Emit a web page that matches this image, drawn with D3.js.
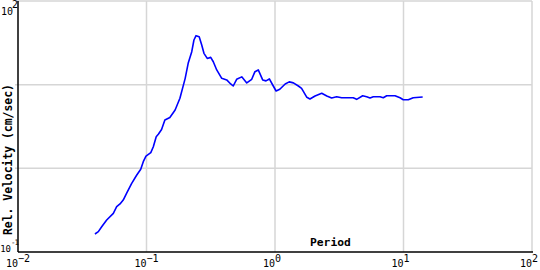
<!DOCTYPE html>
<html><head><meta charset="utf-8">
<script src="https://cdn.jsdelivr.net/npm/d3@7"></script>
<style>body{margin:0;background:#fff}svg{display:block}</style>
</head><body>
<svg id="c" width="540" height="270"></svg>
<script>
const periods = [0.0397,0.0422,0.0448,0.0490,0.0552,0.0586,0.0622,0.0659,0.0701,0.0767,0.0840,0.0902,0.0944,0.0991,0.108,0.113,0.119,0.124,0.131,0.139,0.152,0.167,0.182,0.200,0.211,0.225,0.234,0.243,0.257,0.269,0.280,0.297,0.316,0.331,0.352,0.385,0.421,0.452,0.473,0.503,0.551,0.603,0.659,0.698,0.741,0.802,0.851,0.904,0.960,1.02,1.09,1.20,1.29,1.39,1.52,1.61,1.77,1.87,2.05,2.31,2.53,2.76,3.02,3.30,4.06,4.32,4.81,5.17,5.49,5.82,6.56,6.96,7.40,8.59,9.40,9.96,10.9,11.9,14.1];
const velocities = [0.164,0.175,0.200,0.241,0.290,0.348,0.375,0.418,0.504,0.662,0.832,0.973,1.20,1.40,1.54,1.81,2.39,2.57,2.91,3.78,4.05,4.98,6.87,11.9,18.0,24.8,34.2,38.5,37.4,29.8,23.7,20.6,21.2,18.8,15.0,11.9,11.4,10.2,9.64,11.6,12.4,10.5,11.6,14.3,15.0,11.4,11.1,11.7,9.91,8.40,8.81,10.2,10.8,10.5,9.64,9.04,7.06,6.74,7.32,7.88,7.32,6.93,7.18,6.98,6.98,6.68,7.38,7.18,6.93,7.18,7.18,6.98,7.38,7.38,6.98,6.61,6.61,6.98,7.12];
const xTickExps = [-2,-1,0,1,2];
const yTickExps = [-1,0,1,2];
const yLabelExps = [-1,2];
const xTitle = "Period";
const yTitle = "Rel. Velocity (cm/sec)";

const L=18, R=532, T=1, B=252;
const svg = d3.select("#c");
const x = d3.scaleLog().domain([0.01,100]).range([L,R]);
const y = d3.scaleLog().domain([0.1,100]).range([B,T]);
const grid = "#d6d6d6";
const mono = "'DejaVu Sans Mono', monospace";

// gridlines
svg.append("g").selectAll("line").data(xTickExps.filter(e=>e>-2)).join("line")
  .attr("x1",e=>x(Math.pow(10,e))).attr("x2",e=>x(Math.pow(10,e)))
  .attr("y1",T).attr("y2",B).attr("stroke",grid).attr("stroke-width",1.5);
svg.append("g").selectAll("line").data(yTickExps.filter(e=>e>-1)).join("line")
  .attr("y1",e=>y(Math.pow(10,e))).attr("y2",e=>y(Math.pow(10,e)))
  .attr("x1",L-3).attr("x2",R).attr("stroke",grid).attr("stroke-width",1.5);

// axes
svg.append("line").attr("x1",L).attr("x2",L).attr("y1",T).attr("y2",B).attr("stroke","#000").attr("stroke-width",1.5);
svg.append("line").attr("x1",L).attr("x2",R+1).attr("y1",B).attr("y2",B).attr("stroke","#000").attr("stroke-width",1.5);

// x tick labels
const xl = svg.append("g").attr("font-family",mono).attr("font-size",10).attr("fill","#000");
xTickExps.forEach(e=>{
  const px = x(Math.pow(10,e));
  xl.append("text").attr("x",px).attr("y",267).attr("text-anchor","end").text("10");
  xl.append("text").attr("x",px).attr("y",262).attr("text-anchor","start").text(e<0?"\u2212"+(-e):String(e));
});
// y tick labels
yLabelExps.forEach(e=>{
  const py = y(Math.pow(10,e));
  if (e<0) {
    xl.append("text").attr("x",11).attr("y",py).attr("text-anchor","end").attr("font-size",9).text("10");
    xl.append("text").attr("x",11).attr("y",py-7).attr("text-anchor","start")
      .attr("font-size",7.5).attr("letter-spacing",-1).text("-"+(-e));
  } else {
    xl.append("text").attr("x",13).attr("y",py+14).attr("text-anchor","end").text("10");
    xl.append("text").attr("x",12).attr("y",py+7).attr("text-anchor","start").text(String(e));
  }
});

// titles
svg.append("text").attr("x",310).attr("y",246).attr("font-family",mono).attr("font-weight","bold")
  .attr("font-size",11.3).text(xTitle);
svg.append("text").attr("transform","translate(12,235) rotate(-90)").attr("font-family",mono)
  .attr("font-weight","bold").attr("font-size",11.4).text(yTitle);

// curve
const line = d3.line().x((d,i)=>x(periods[i])).y((d,i)=>y(velocities[i]));
svg.append("path").datum(velocities).attr("d",line).attr("fill","none")
  .attr("stroke","#0000ff").attr("stroke-width",1.6).attr("stroke-linejoin","round");
</script>
</body></html>
